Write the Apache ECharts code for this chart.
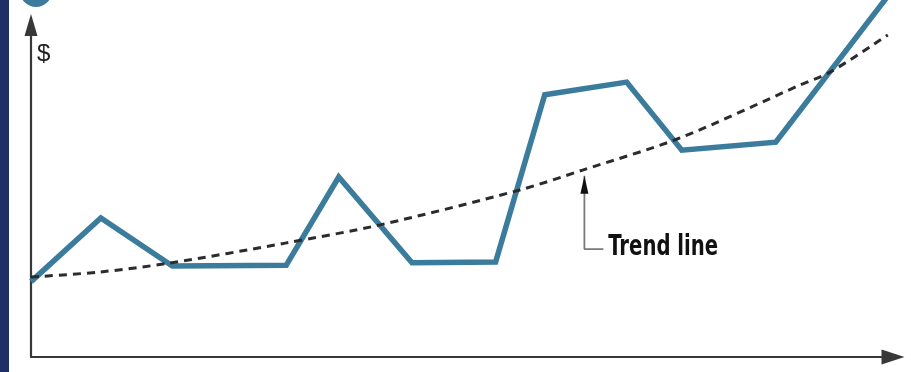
<!DOCTYPE html>
<html><head><meta charset="utf-8">
<script src="https://cdn.jsdelivr.net/npm/echarts@6/dist/echarts.min.js"></script>
<style>html,body{margin:0;padding:0;background:#fff}#c{width:911px;height:372px}</style>
</head><body><div id="c"></div>
<script>
// Price path (time units 0-100, value units 0-100)
var priceTime  = [0, 8.1, 16.4, 29.6, 35.7, 44.2, 53.9, 59.6, 69.1, 75.5, 86.4, 99.4];
var priceValue = [22.7, 41.9, 27.4, 27.6, 54.2, 28.4, 28.6, 79.0, 82.8, 62.3, 64.7, 108.7];
// Trend line readings
var trendTime  = [0, 8.0, 16.1, 29.5, 40.5, 56.7, 64.0, 75.3, 89.2, 92.7, 99.4];
var trendValue = [24.1, 25.6, 28.3, 34.3, 39.8, 50.3, 56.3, 66.0, 81.9, 85.8, 97.0];
// Annotation pointer
var noteTime  = [64.2, 64.2, 66.4];
var noteValue = [54.6, 32.5, 32.5];
var noteText = 'Trend line';
var axisName = '$';

function pairs(a, b) { return a.map(function (v, i) { return [v, b[i]]; }); }

var chart = echarts.init(document.getElementById('c'), null, {renderer: 'canvas'});
var baseGraphic = [
  {type: 'rect', shape: {x: 0, y: 0, width: 9, height: 372}, style: {fill: '#1d2f66'}, z: 100},
  {type: 'circle', shape: {cx: 36, cy: -9, r: 16}, style: {fill: '#3d7b9c'}, z: 100}
];
chart.setOption({
  backgroundColor: '#fff',
  animation: false,
  grid: {left: 31, right: 18, top: 25, bottom: 15},
  xAxis: {
    type: 'value', min: 0, max: 100,
    axisLine: {show: true, lineStyle: {color: '#383838', width: 2.2}, symbol: ['none', 'triangle'], symbolSize: [15, 23]},
    axisTick: {show: false}, axisLabel: {show: false}, splitLine: {show: false}
  },
  yAxis: {
    type: 'value', min: 0, max: 100,
    name: axisName, nameLocation: 'end', nameGap: -29,
    nameTextStyle: {color: '#222', fontSize: 24, fontFamily: 'Liberation Sans', align: 'left', verticalAlign: 'middle', padding: [0, 0, 0, 6]},
    axisLine: {show: true, lineStyle: {color: '#383838', width: 2.2}, symbol: ['none', 'triangle'], symbolSize: [13, 22]},
    axisTick: {show: false}, axisLabel: {show: false}, splitLine: {show: false}
  },
  graphic: baseGraphic,
  series: [
    {
      type: 'line', data: pairs(trendTime, trendValue), smooth: 0.3,
      showSymbol: false, clip: false,
      lineStyle: {color: '#2b2b2b', width: 3, type: [8, 6]}, z: 3
    },
    {
      type: 'line', data: pairs(priceTime, priceValue),
      showSymbol: false, clip: false,
      lineStyle: {color: '#3b7b9c', width: 5.5, join: 'miter'}, z: 2
    },
    {
      type: 'line', data: pairs(noteTime, noteValue),
      clip: false, showSymbol: true,
      symbol: function (v, p) { return p.dataIndex === 0 ? 'triangle' : 'none'; },
      symbolSize: [8, 18], symbolOffset: [0, 9],
      itemStyle: {color: '#111'},
      lineStyle: {color: '#7a7a7a', width: 1.8},
      z: 4
    }
  ]
});
// Label placed at the end of the pointer, located through the chart's own scales
var last = noteTime.length - 1;
var pt = chart.convertToPixel({gridIndex: 0}, [noteTime[last], noteValue[last]]);
chart.setOption({
  graphic: baseGraphic.concat([{
    type: 'text', x: pt[0] + 5, y: pt[1] - 1, scaleX: 0.78, z: 100,
    style: {text: noteText, fill: '#111', fontSize: 28, fontWeight: 'bold',
            fontFamily: '"DejaVu Sans Condensed", sans-serif', verticalAlign: 'middle', align: 'left'}
  }])
});
</script></body></html>
